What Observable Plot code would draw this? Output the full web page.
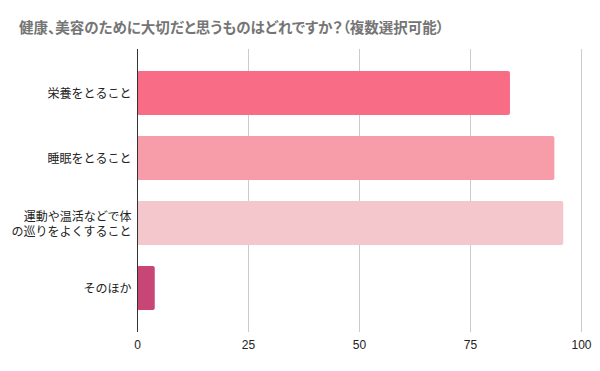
<!DOCTYPE html>
<html>
<head>
<meta charset="utf-8">
<script src="https://cdn.jsdelivr.net/npm/d3@7"></script>
<script src="https://cdn.jsdelivr.net/npm/@observablehq/plot@0.6"></script>
<style>
  html, body { margin: 0; padding: 0; background: #fff; }
  #wrap { position: relative; width: 600px; height: 371px; overflow: hidden; }
  #title { position: absolute; left: 19px; top: 21px; line-height: 15px; font-size: 14.5px; font-weight: bold; color: #757575;
    font-family: "Liberation Sans", "Noto Sans CJK JP", sans-serif; white-space: nowrap; font-feature-settings: "palt"; }
  #chart { position: absolute; left: 0; top: 40px; }
</style>
</head>
<body>
<div id="wrap">
  <div id="title">健康、美容のために大切だと思うものはどれですか？（複数選択可能）</div>
  <div id="chart"></div>
</div>
<script>
const categories = ["栄養をとること", "睡眠をとること", "運動や温活などで体の巡りをよくすること", "そのほか"];
const categoryLabels = ["栄養をとること", "睡眠をとること", "運動や温活などで体\nの巡りをよくすること", "そのほか"];
const values = [84, 94, 96, 4];
const barColors = ["#f86c85", "#f69da9", "#f4c7cd", "#c84676"];
const xTicks = [0, 25, 50, 75, 100];
const gridTicks = [25, 50, 75, 100];

const data = categories.map((c, i) => ({category: c, value: values[i]}));
const labelOf = new Map(categories.map((c, i) => [c, categoryLabels[i]]));

const plot = Plot.plot({
  width: 600,
  height: 331,
  marginTop: 9,
  marginBottom: 39,
  marginLeft: 137,
  marginRight: 19,
  style: {fontFamily: "'Liberation Sans', 'Noto Sans CJK JP', sans-serif", fontSize: "12px", color: "#222", background: "#fff"},
  x: {domain: [0, 100], ticks: xTicks},
  y: {domain: categories, paddingInner: 0.33, paddingOuter: 0.34},
  color: {domain: categories, range: barColors},
  marks: [
    Plot.ruleX(gridTicks, {stroke: "#cccccc", strokeWidth: 1}),
    Plot.barX(data, {x: "value", y: "category", fill: "category", rx: 2}),
    Plot.ruleX([0], {stroke: "#333333", strokeWidth: 1}),
    Plot.axisX({ticks: xTicks, tickSize: 0, tickPadding: 8, fontSize: 12, fill: "#222", label: null}),
    Plot.axisY({tickSize: 0, tickPadding: 6, fontSize: 12, fill: "#222", label: null, lineHeight: 1.25,
      tickFormat: d => labelOf.get(d)})
  ]
});
document.getElementById("chart").appendChild(plot);
</script>
</body>
</html>
